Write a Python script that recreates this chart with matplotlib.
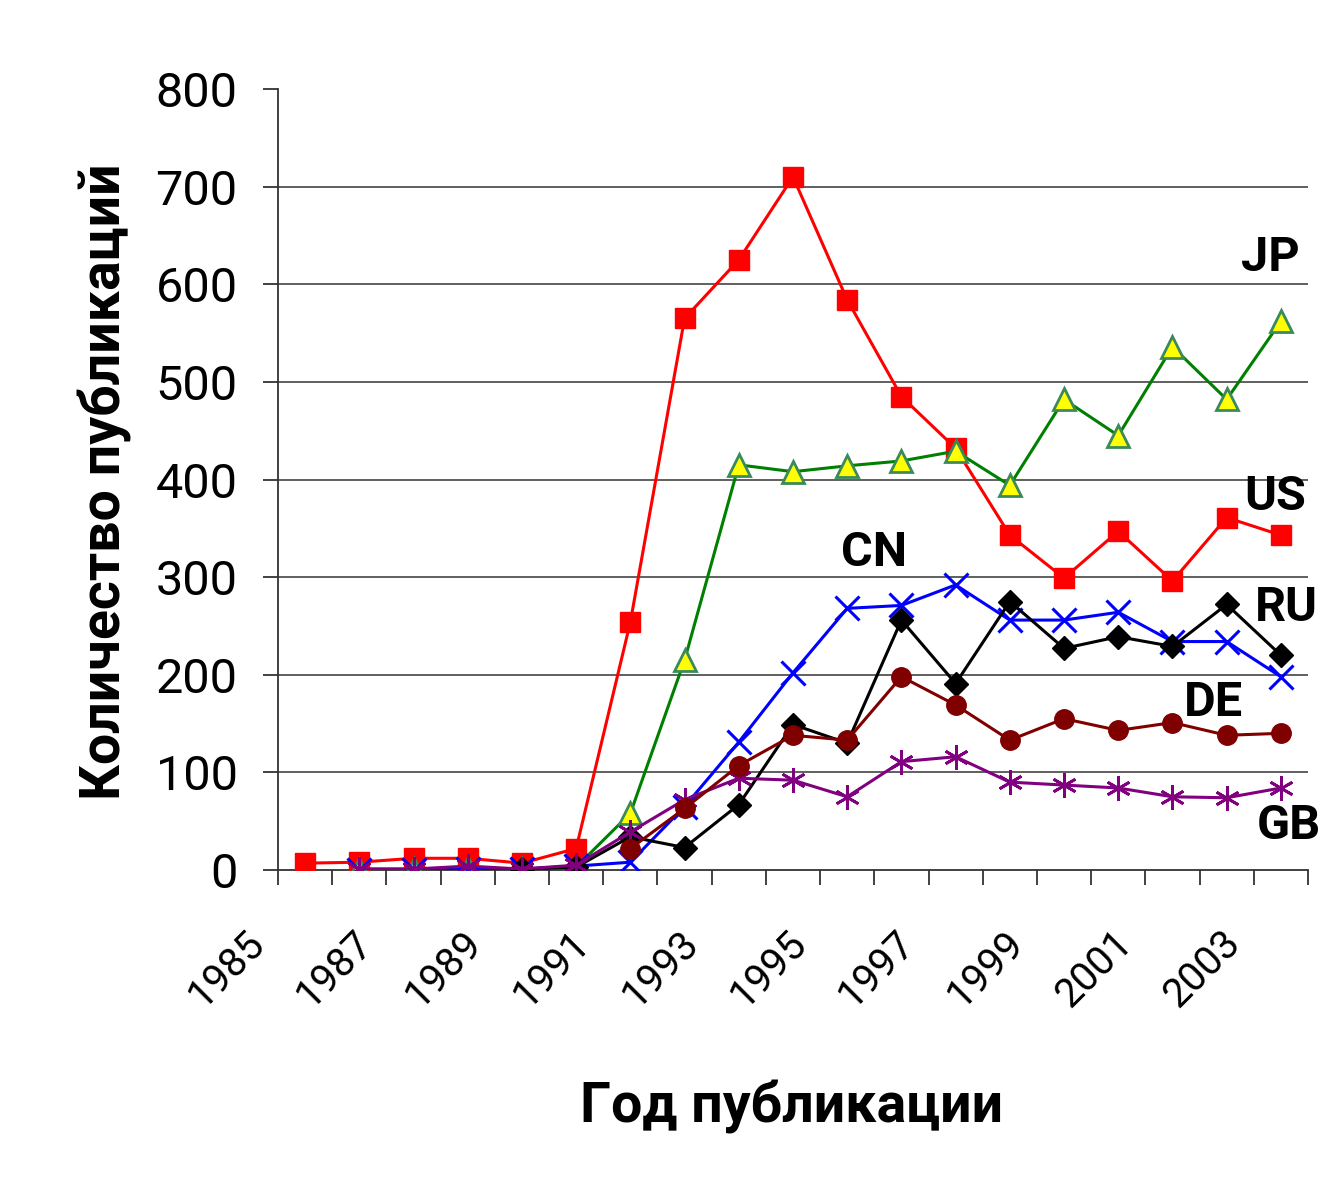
import numpy as np
import matplotlib.pyplot as plt
from matplotlib.transforms import ScaledTranslation

# годы публикаций
years = list(range(1985, 2004))
nan = np.nan

us = [7, 8, 12, 12, 7, 22, 254, 565, 625, 710, 584, 485, 432, 343, 299, 347, 296, 361, 343]
jp = [nan, 1, 1, 2, 1, 3, 58, 215, 415, 408, 414, 419, 429, 394, 482, 445, 536, 482, 562]
cn = [nan, 0, 0, 1, 1, 4, 8, 65, 131, 202, 268, 271, 292, 256, 256, 264, 234, 234, 198]
ru = [nan, nan, nan, nan, 1, 3, 34, 23, 67, 149, 130, 256, 191, 275, 227, 239, 229, 272, 220]
de = [nan, nan, nan, nan, nan, nan, 22, 63, 107, 138, 133, 198, 169, 133, 155, 143, 151, 138, 140]
gb = [nan, 1, 1, 4, 1, 5, 39, 72, 94, 92, 75, 111, 116, 90, 87, 84, 75, 74, 84]

country_labels = ['JP', 'US', 'CN', 'RU', 'DE', 'GB']
label_x = [17.8, 17.9, 10.5, 18.1, 16.75, 18.15]
label_y = [627, 382, 325, 268, 171, 45]

plt.rcParams['font.family'] = ['Roboto', 'DejaVu Sans']

fig = plt.figure(figsize=(13.31, 11.9), dpi=100)
ax = fig.add_axes([278 / 1331, 1 - 870 / 1190, 1030 / 1331, 781 / 1190])

x = np.arange(len(years))

ax.plot(x, us, color='#ff0000', lw=2.2, marker='s', ms=14, mfc='#ff0000', mec='#ff0000', zorder=3)
ax.plot(x, jp, color='#008000', lw=2.2, marker='^', ms=16, mfc='#ffff00', mec='#3a8a5a', mew=2, zorder=4)
ax.plot(x, cn, color='#0000ff', lw=2.2, marker='x', ms=17, mew=2.2, zorder=5)
ax.plot(x, ru, color='#000000', lw=2.2, marker='D', ms=12, mfc='#000000', zorder=6)
ax.plot(x, gb, color='#800080', lw=2.2, marker=(6, 2, 0), ms=18, mew=2, zorder=7)
ax.plot(x, de, color='#800000', lw=2.2, marker='o', ms=14, mfc='#800000', mec='#800000', zorder=8)

for lab, lx, ly in zip(country_labels, label_x, label_y):
    ax.text(lx, ly, lab, fontsize=35, fontweight='bold', ha='center', va='center', zorder=10)

ax.set_xlim(-0.5, len(years) - 0.5)
ax.set_ylim(0, 800)

# оси в стиле Excel
for s in ['top', 'right']:
    ax.spines[s].set_visible(False)
for s in ['left', 'bottom']:
    ax.spines[s].set_color('#333333')
    ax.spines[s].set_linewidth(1.3)

ax.set_yticks(range(0, 801, 100))
ax.tick_params(axis='y', length=11, width=1.3, color='#333333', labelsize=35, pad=18)
for yv in range(100, 800, 100):
    ax.axhline(yv, color='#444444', lw=1.2, zorder=1)

ax.set_xticks(x[::2])
ax.set_xticklabels([str(y) for y in years[::2]], rotation=45, ha='right', va='top')
ax.set_xticks(np.arange(len(years) + 1) - 0.5, minor=True)
ax.tick_params(axis='x', which='major', length=0, labelsize=29, pad=38)
ax.tick_params(axis='x', which='minor', length=11, width=1.3, color='#333333')
off = ScaledTranslation(-0.33, 0, fig.dpi_scale_trans)
for t in ax.get_xticklabels():
    t.set_transform(t.get_transform() + off)

fig.text(105 / 1331, 1 - 482 / 1190, 'Количество публикаций', rotation=90,
         fontsize=40, fontweight='bold', ha='center', va='center')
fig.text(792 / 1331, 1 - 1107 / 1190, 'Год публикации',
         fontsize=40, fontweight='bold', ha='center', va='center')

fig.savefig('out.png', dpi=100)
